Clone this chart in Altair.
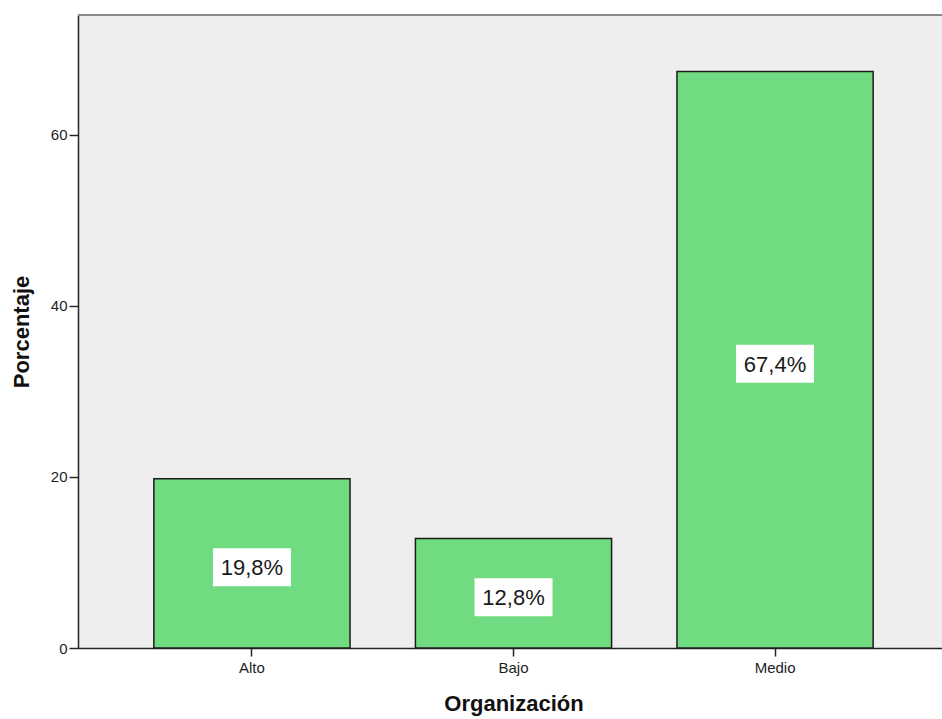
import altair as alt
import pandas as pd

# Nivel de organización: porcentaje de casos por categoría
categorias = ["Alto", "Bajo", "Medio"]
porcentajes = [19.8, 12.8, 67.4]
etiquetas = [f"{v:.1f}".replace(".", ",") + "%" for v in porcentajes]

df = pd.DataFrame({
    "categoria": categorias,
    "porcentaje": porcentajes,
    "etiqueta": etiquetas,
})
df["centro"] = df["porcentaje"] / 2

FUENTE = "Liberation Sans"
OSCURO = "#262626"

eje_x = alt.Axis(
    title="Organización", labelAngle=0,
    domainColor=OSCURO, domainWidth=1.5, tickColor=OSCURO, tickWidth=1.5, tickSize=8,
    labelFont=FUENTE, labelFontSize=15, labelColor="#1e1e1e", labelPadding=4,
    titleFont=FUENTE, titleFontSize=22, titleFontWeight="bold", titleColor="#111111",
    titlePadding=18,
)
eje_y = alt.Axis(
    title="Porcentaje", values=[0, 20, 40, 60], grid=False,
    domainColor=OSCURO, domainWidth=1.5, tickColor=OSCURO, tickWidth=1.5, tickSize=9,
    labelFont=FUENTE, labelFontSize=15, labelColor="#1e1e1e", labelPadding=2,
    titleFont=FUENTE, titleFontSize=22, titleFontWeight="bold", titleColor="#111111",
    titlePadding=17,
)

escala_x = alt.Scale(range=[0, 871], paddingInner=0.25, paddingOuter=0.29)
escala_y = alt.Scale(domain=[0, 74], nice=False, zero=True)

x = alt.X("categoria:N", sort=categorias, scale=escala_x, axis=eje_x)

base = alt.Chart(df)

barras = base.mark_bar(fill="#70DB80", stroke="#1c1c1c", strokeWidth=1.5).encode(
    x=x,
    y=alt.Y("porcentaje:Q", scale=escala_y, axis=eje_y),
)

# Recuadro blanco detrás de cada etiqueta
caja = base.mark_point(
    shape="M-1,-0.4872L1,-0.4872L1,0.4872L-1,0.4872Z",
    size=6084, filled=True, fill="white", opacity=1, strokeWidth=0, yOffset=4,
).encode(
    x=x,
    y=alt.Y("centro:Q", scale=escala_y, axis=eje_y),
)

texto = base.mark_text(
    font=FUENTE, fontSize=22, color="#1a1a1a", baseline="middle", dy=5,
).encode(
    x=x,
    y=alt.Y("centro:Q", scale=escala_y, axis=eje_y),
    text="etiqueta:N",
)

borde_superior = alt.Chart(pd.DataFrame({"k": [0]})).mark_rule(
    color="#8a8a8a", strokeWidth=2
).encode(x=alt.value(0), x2=alt.value(871), y=alt.value(0))

chart = (
    alt.layer(barras, caja, texto, borde_superior)
    .properties(
        width=864, height=633,
        autosize=alt.AutoSizeParams(type="none"),
        padding={"left": 78, "top": 15, "right": 0, "bottom": 71},
        background="white",
    )
    .configure_view(fill="#EEEEEE", stroke="transparent")
)

chart.save("out.html", embed_options={"renderer": "svg", "actions": False})
